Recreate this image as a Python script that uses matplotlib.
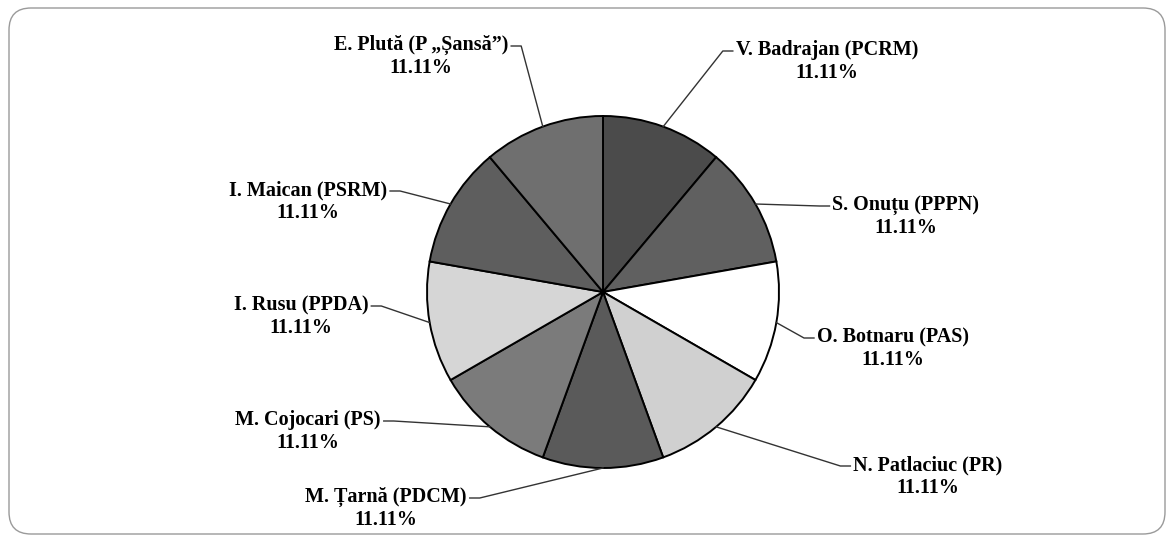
import matplotlib
matplotlib.use("Agg")
import numpy as np
from matplotlib import pyplot as plt
from matplotlib.patches import FancyBboxPatch

# candidati si ponderi (toate egale)
nume = ["V. Badrajan (PCRM)", "S. Onuțu (PPPN)", "O. Botnaru (PAS)",
        "N. Patlaciuc (PR)", "M. Țarnă (PDCM)", "M. Cojocari (PS)",
        "I. Rusu (PPDA)", "I. Maican (PSRM)", "E. Plută (P „Șansă”)"]
valori = [1, 1, 1, 1, 1, 1, 1, 1, 1]
culori = ["#4b4b4b", "#606060", "#ffffff", "#d0d0d0", "#5a5a5a",
          "#7b7b7b", "#d6d6d6", "#5e5e5e", "#6f6f6f"]

W, H = 1172, 537
fig = plt.figure(figsize=(W / 100, H / 100), dpi=100)
ax = fig.add_axes([0, 0, 1, 1])

cx, cy, r = 603, H - 292, 176
wedges, _ = ax.pie(valori, colors=culori, startangle=90, counterclock=False,
                   center=(cx, cy), radius=r, frame=True,
                   wedgeprops=dict(edgecolor="black", linewidth=1.4))
ax.set_xlim(0, W)
ax.set_ylim(0, H)
ax.set_aspect("equal")
ax.axis("off")

# chenar rotunjit
ax.add_patch(FancyBboxPatch((9, 3), 1156, 526, boxstyle="round,pad=0,rounding_size=22",
                            fill=False, edgecolor="#9a9a9a", linewidth=1.0))

# pozitii etichete (centru text, y in pixeli de sus) si partea liniei
etichete = [
    (827, 50, "left"),
    (906, 205, "left"),
    (893, 337, "left"),
    (928, 465, "left"),
    (386, 497, "right"),
    (308, 420, "right"),
    (301, 305, "right"),
    (308, 190, "right"),
    (421, 45, "right"),
]

total = sum(valori)
fp = dict(family="Liberation Serif", weight="bold", size=14.5)
for w, n, v, (tx, ty, side) in zip(wedges, nume, valori, etichete):
    a = np.deg2rad((w.theta1 + w.theta2) / 2)
    ex, ey = cx + r * np.cos(a), cy + r * np.sin(a)
    t = ax.text(tx, H - ty, n, ha="center", va="center", fontdict=fp)
    ax.text(tx, H - ty - 23, "{:.2f}%".format(100 * v / total),
            ha="center", va="center", fontdict=fp)
    fig.canvas.draw()
    bb = t.get_window_extent().transformed(ax.transData.inverted())
    ly = H - ty - 1
    if side == "right":
        x0 = bb.x1 + 3
        xs = [x0, x0 + 10, ex]
    else:
        x0 = bb.x0 - 3
        xs = [x0, x0 - 10, ex]
    ys = [ly, ly, ey]
    ax.plot(xs, ys, color="#333333", linewidth=1.0)

fig.savefig("out.png", dpi=100)
